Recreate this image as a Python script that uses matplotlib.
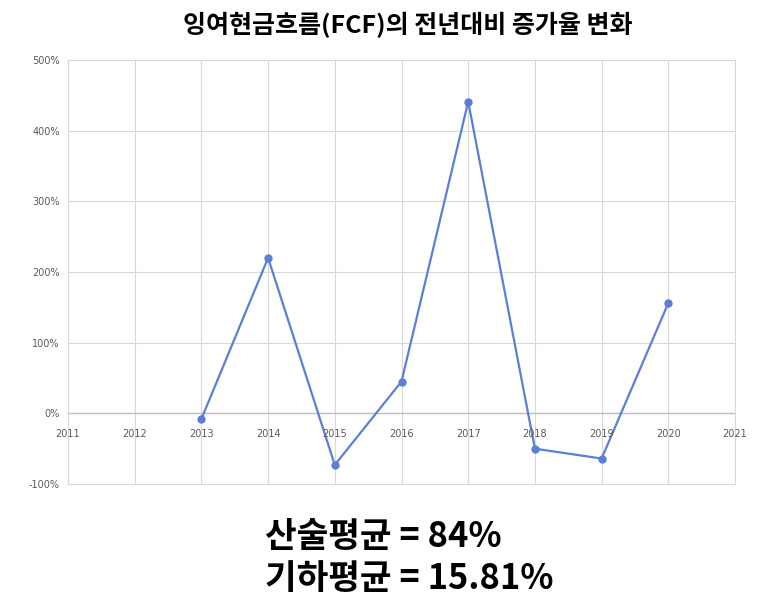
import matplotlib
matplotlib.use("Agg")
import matplotlib.pyplot as plt
import numpy as np

plt.rcParams['font.family'] = ['Noto Sans CJK KR', 'DejaVu Sans']

years_axis = [2011, 2012, 2013, 2014, 2015, 2016, 2017, 2018, 2019, 2020, 2021]
years = [2013, 2014, 2015, 2016, 2017, 2018, 2019, 2020]
growth = [-8, 220, -73, 45, 441, -50, -64, 156]
y_ticks = [-100, 0, 100, 200, 300, 400, 500]
title = "잉여현금흐름(FCF)의 전년대비 증가율 변화"
line1 = "산술평균 = 84%"
line2 = "기하평균 = 15.81%"

fig = plt.figure(figsize=(7.59, 6.05), dpi=100)
ax = fig.add_axes([68/759, 1 - 484/605, (735-68)/759, (484-60)/605])

ax.plot(years, growth, color='#5b7fd8', linewidth=1.6, marker='o', markersize=5, zorder=3)

ax.set_xlim(years_axis[0], years_axis[-1])
ax.set_ylim(y_ticks[0], y_ticks[-1])
ax.set_yticks(y_ticks)
ax.set_yticklabels([f"{v}%" for v in y_ticks], fontsize=7, color='#595959', family='DejaVu Sans')
ax.set_xticks(years_axis)
ax.set_xticklabels([])
ax.tick_params(length=0, pad=6)
ax.grid(True, color='#d9d9d9', linewidth=0.8)
for gl in ax.get_xgridlines() + ax.get_ygridlines():
    gl.set_clip_on(False)
ax.axhline(0, color='#bfbfbf', linewidth=1.0, zorder=2)
for s in ax.spines.values():
    s.set_visible(False)

for yr in years_axis:
    ax.annotate(str(yr), xy=(yr, 0), xycoords='data', xytext=(0, -15),
                textcoords='offset points', ha='center', va='center',
                fontsize=7, color='#595959', family='DejaVu Sans')

fig.text(408/759, 1 - 25/605, title, ha='center', va='center', fontsize=18, fontweight='bold', color='black')
fig.text(265/759, 1 - 536/605, line1, ha='left', va='center', fontsize=24.8, fontweight='bold', color='black')
fig.text(265/759, 1 - 578/605, line2, ha='left', va='center', fontsize=24.8, fontweight='bold', color='black')

fig.savefig('out.png', dpi=100, facecolor='white')
